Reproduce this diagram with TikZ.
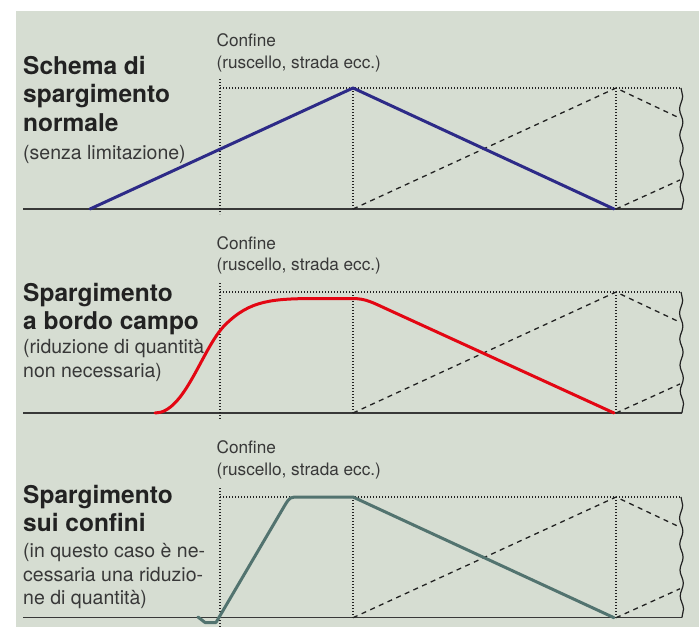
\documentclass[tikz,border=0pt]{standalone}
\usepackage{fontspec}
\setmainfont{TeX Gyre Heros}
\usetikzlibrary{decorations.pathmorphing}
\definecolor{bg}{HTML}{D6DDD2}
\definecolor{ink}{HTML}{222222}
\definecolor{cblue}{HTML}{2D2A87}
\definecolor{cred}{HTML}{E30613}
\definecolor{cteal}{HTML}{52736F}
\tikzset{
  baseln/.style={draw=ink!90, line width=1.5pt},
  dots/.style={draw=ink, line width=1.1pt, dash pattern=on 1pt off 2pt},
  dashes/.style={draw=ink, line width=1.3pt, dash pattern=on 5pt off 4.5pt},
  wave/.style={draw=ink, line width=1.2pt, decorate, decoration={snake, segment length=26pt, amplitude=1.6pt}},
  curve/.style={line width=3pt, line join=round, line cap=round},
  title/.style={anchor=base west, inner sep=0pt, text=ink, font=\fontsize{24.5}{28}\selectfont\bfseries},
  desc/.style={anchor=base west, inner sep=0pt, text=ink!90, font=\fontsize{19.5}{23}\selectfont},
  conf/.style={anchor=base west, inner sep=0pt, text=ink!90, font=\fontsize{17.2}{21}\selectfont}
}
\begin{document}
\begin{tikzpicture}[x=1pt,y=-1pt]
\useasboundingbox (0,0) rectangle (699,627);
\fill[bg] (16,11) rectangle (699,627);

% panel frames
\foreach \T/\B/\ct/\cb in {88/209/79/214, 292/413/283/420, 497/617.7/488/627}{
  \pgfmathsetmacro{\ya}{\T+0.25*(\B-\T)}
  \pgfmathsetmacro{\yb}{\T+0.76*(\B-\T)}
  \coordinate (tl) at (220,\T);
  \coordinate (tr) at (681,\T);
  \coordinate (bl) at (23,\B);
  \coordinate (br) at (682,\B);
  \coordinate (m1t) at (353,\T);
  \coordinate (m1b) at (353,\B);
  \coordinate (m2t) at (616,\T);
  \coordinate (m2b) at (616,\B);
  \coordinate (ct) at (220,\ct);
  \coordinate (cb) at (220,\cb);
  \coordinate (ea) at (680,\ya);
  \coordinate (eb) at (680,\yb);
  \draw[baseln] (bl) -- (br);
  \draw[dots] (tl) -- (tr);
  \draw[dots] (ct) -- (cb);
  \draw[dots] (m1t) -- (m1b);
  \draw[dots] (m2t) -- (m2b);
  \draw[dashes] (m1b) -- (m2t) -- (ea);
  \draw[dashes] (m2b) -- (eb);
  \draw[wave] (tr) -- (br);
}

% curves
\coordinate (b0) at (90,209);
\coordinate (b1) at (353,88);
\coordinate (b2) at (614,209);
\draw[curve, cblue] (b0) -- (b1) -- (b2);

\coordinate (r0) at (155,413);
\coordinate (r1) at (225,325);
\coordinate (r2) at (320,298.5);
\coordinate (r3) at (352,298.5);
\coordinate (r4) at (390,310.5);
\coordinate (r5) at (614,413);
\draw[curve, cred] (r0) .. controls (185,413) and (202,348) .. (r1)
  .. controls (250,300) and (272,298.5) .. (r2) -- (r3)
  .. controls (366,298.5) and (372,302.3) .. (r4) -- (r5);

\coordinate (t0) at (198,617);
\coordinate (t1) at (205,622.5);
\coordinate (t2) at (216,622.5);
\coordinate (t3) at (285,505);
\coordinate (t4) at (300,497);
\coordinate (t5) at (353,497);
\coordinate (t6) at (614,617.7);
\draw[curve, cteal] (t0) -- (t1) -- (t2) -- (t3) .. controls (290,497) .. (t4) -- (t5) -- (t6);

% texts top
\node[conf] (c1a) at (216.5,46.7) {Confine};
\node[conf] (c1b) at (216.5,68.3) {(ruscello, strada ecc.)};
\node[title] (h1a) at (23,74.5) {Schema di};
\node[title] (h1b) at (23,102) {spargimento};
\node[title] (h1c) at (23,131) {normale};
\node[desc] (d1a) at (23,159.5) {(senza limitazione)};

% texts middle
\node[conf] (c2a) at (216.5,249) {Confine};
\node[conf] (c2b) at (216.5,270.7) {(ruscello, strada ecc.)};
\node[title] (h2a) at (23,301) {Spargimento};
\node[title] (h2b) at (23,329.5) {a bordo campo};
\node[desc] (d2a) at (23,353.3) {(riduzione di quantità};
\node[desc] (d2b) at (23,377) {non necessaria)};

% texts bottom
\node[conf] (c3a) at (216.5,453) {Confine};
\node[conf] (c3b) at (216.5,475) {(ruscello, strada ecc.)};
\node[title] (h3a) at (23,503.3) {Spargimento};
\node[title] (h3b) at (23,531.7) {sui confini};
\node[desc] (d3a) at (23,557.7) {(in questo caso è ne-};
\node[desc] (d3b) at (23,581) {cessaria una riduzio-};
\node[desc] (d3c) at (23,604.3) {ne di quantità)};
\end{tikzpicture}
\end{document}
